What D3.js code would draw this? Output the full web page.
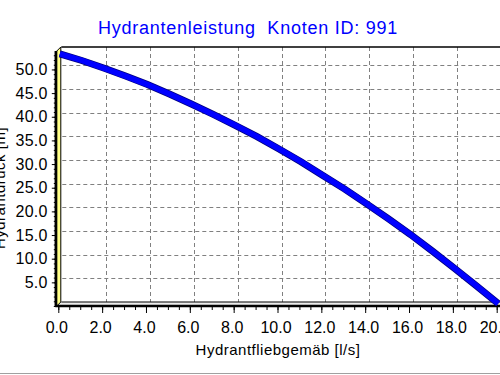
<!DOCTYPE html>
<html><head><meta charset="utf-8">
<script src="https://cdn.jsdelivr.net/npm/d3@7"></script>
<style>
body{margin:0;background:#fff;}
svg{display:block;}
text{font-family:"Liberation Sans",Arial,sans-serif;}
</style>
</head><body>
<svg id="c" width="500" height="375"></svg>
<script>
const titleText = "Hydrantenleistung  Knoten ID: 991";
const xTitle = "Hydrantfliebgemäb [l/s]";
const yTitle = "Hydrantdruck [m]";
const flow = [0,1,2,3,4,5,6,7,8,9,10,11,12,13,14,15,16,17,18,19,20];
const pressure = [53.3,51.9,50.3,48.6,46.8,44.8,42.7,40.5,38.2,35.8,33.2,30.5,27.6,24.7,21.6,18.4,15.1,11.6,8.0,4.3,0.5];
const xTicks = [0,2,4,6,8,10,12,14,16,18,20];
const yTicks = [5,10,15,20,25,30,35,40,45,50];
const xMinor = d3.range(0, 20.01, 0.5);
const yMinor = d3.range(0, 53.5, 1);

const svg = d3.select("#c");
const x = d3.scaleLinear().domain([0, 20]).range([58.3, 496.7]);
const y = d3.scaleLinear().domain([0, 53.9]).range([306, 51]);
const dx = 4, dy = -4;
const right = 505;

// bottom grey frame line
svg.append("line").attr("x1",0).attr("x2",500).attr("y1",373.5).attr("y2",373.5)
  .attr("stroke","#a0a0a0").attr("stroke-width",1);

// title
svg.append("text").attr("x",248).attr("y",33.5).attr("text-anchor","middle")
  .style("white-space","pre").style("letter-spacing","0.75px")
  .attr("font-size",18).attr("fill","#0000ff").text(titleText);

// gridlines (back plane)
const grid = svg.append("g").attr("stroke","#808080").attr("stroke-width",1).attr("stroke-dasharray","4,3");
grid.selectAll("line.v").data(xTicks.filter(d=>d>0)).join("line")
  .attr("x1",d=>Math.round(x(d)+dx)+0.5).attr("x2",d=>Math.round(x(d)+dx)+0.5)
  .attr("y1",y.range()[1]+dy).attr("y2",y(0)+dy);
grid.selectAll("line.h").data(yTicks).join("line")
  .attr("x1",x(0)+dx).attr("x2",right)
  .attr("y1",d=>Math.round(y(d)+dy)+0.5).attr("y2",d=>Math.round(y(d)+dy)+0.5);

// top border (back plane)
svg.append("line").attr("x1",x(0)+dx-1).attr("x2",right)
  .attr("y1",y.range()[1]+dy).attr("y2",y.range()[1]+dy)
  .attr("stroke","#000").attr("stroke-width",1.5);

// floor
svg.append("path")
  .attr("d",`M${x(0)-1},${y(0)} L${x(0)+dx-1},${y(0)+dy} L${right},${y(0)+dy} L${right},${y(0)} Z`)
  .attr("fill","#ececec");
svg.append("line").attr("x1",x(0)+dx-1).attr("x2",right).attr("y1",y(0)+dy).attr("y2",y(0)+dy)
  .attr("stroke","#000").attr("stroke-width",1.2);

// left wall
svg.append("path")
  .attr("d",`M${x(0)-1.5},${y.range()[1]} L${x(0)+dx-1.5},${y.range()[1]+dy} L${x(0)+dx-1.5},${y(0)+dy} L${x(0)-1.5},${y(0)} Z`)
  .attr("fill","#ffff88").attr("stroke","#000").attr("stroke-width",1);

// x axis
const xAxisMaj = d3.axisBottom(x).tickValues(xTicks).tickSize(6).tickPadding(9).tickFormat(d3.format(".1f"));
const xAxisMin = d3.axisBottom(x).tickValues(xMinor).tickSize(3).tickFormat("");
const gxMin = svg.append("g").attr("transform",`translate(0,${y(0)+1})`).call(xAxisMin);
const gx = svg.append("g").attr("transform",`translate(0,${y(0)+1})`).call(xAxisMaj);
[gx,gxMin].forEach(g=>{g.select(".domain").remove(); g.selectAll("line").attr("stroke","#000");});
gx.selectAll("text").attr("font-size",16).attr("fill","#000").attr("dx",-2)
  .attr("font-family",'"Liberation Sans",Arial,sans-serif');

// front floor line
svg.append("line").attr("x1",x(0)-3).attr("x2",right).attr("y1",y(0)).attr("y2",y(0))
  .attr("stroke","#000").attr("stroke-width",2.5);

// y axis
const yAxisMaj = d3.axisLeft(y).tickValues(yTicks).tickSize(4).tickPadding(4).tickFormat(d3.format(".1f"));
const yAxisMin = d3.axisLeft(y).tickValues(yMinor).tickSize(2).tickFormat("");
const gyMin = svg.append("g").attr("transform",`translate(${x(0)-2.5},0)`).call(yAxisMin);
const gy = svg.append("g").attr("transform",`translate(${x(0)-2.5},0)`).call(yAxisMaj);
[gy,gyMin].forEach(g=>{g.select(".domain").remove(); g.selectAll("line").attr("stroke","#000");});
gy.selectAll("text").attr("font-size",16).attr("fill","#000")
  .style("letter-spacing","0.3px")
  .attr("font-family",'"Liberation Sans",Arial,sans-serif');
svg.append("line").attr("x1",x(0)-2.5).attr("x2",x(0)-2.5).attr("y1",y.range()[1]).attr("y2",y(0)+1)
  .attr("stroke","#000").attr("stroke-width",2.5);

// axis titles
svg.append("text").attr("x",278).attr("y",355).attr("text-anchor","middle")
  .style("letter-spacing","0.5px")
  .attr("font-size",15).attr("fill","#000").text(xTitle);
svg.append("text").attr("transform","translate(5,188) rotate(-90)").attr("text-anchor","middle")
  .style("letter-spacing","0.5px")
  .attr("font-size",15).attr("fill","#000").text(yTitle);

// curve
const pts = flow.map((f,i)=>[f, pressure[i]]);
const line = d3.line().x(d=>x(d[0])+1.5).y(d=>y(d[1]));
svg.append("path").datum(pts).attr("d",line).attr("fill","none")
  .attr("stroke","#000080").attr("stroke-width",7).attr("stroke-linejoin","miter");
svg.append("path").datum(pts).attr("d",line).attr("fill","none")
  .attr("stroke","#0000ff").attr("stroke-width",5.5).attr("stroke-linejoin","miter");
</script>
</body></html>
